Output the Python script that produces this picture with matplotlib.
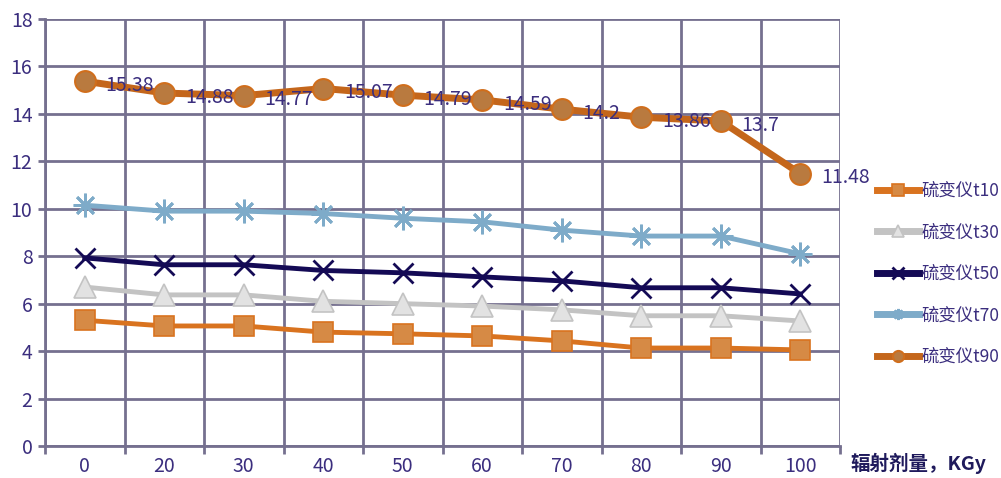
import matplotlib.pyplot as plt
from matplotlib.lines import Line2D
from matplotlib.ticker import FixedLocator

plt.rcParams['font.family'] = ['Noto Sans CJK SC', 'DejaVu Sans']

doses = ['0', '20', '30', '40', '50', '60', '70', '80', '90', '100']
t10 = [5.3, 5.06, 5.06, 4.8, 4.73, 4.64, 4.43, 4.13, 4.13, 4.05]
t30 = [6.7, 6.37, 6.37, 6.1, 6.0, 5.9, 5.74, 5.49, 5.49, 5.27]
t50 = [7.93, 7.64, 7.64, 7.4, 7.3, 7.13, 6.96, 6.67, 6.67, 6.41]
t70 = [10.15, 9.9, 9.9, 9.8, 9.6, 9.45, 9.1, 8.85, 8.85, 8.1]
t90 = [15.38, 14.88, 14.77, 15.07, 14.79, 14.59, 14.2, 13.86, 13.7, 11.48]
names = ['硫变仪t10', '硫变仪t30', '硫变仪t50', '硫变仪t70', '硫变仪t90']

text_color = '#3b2e7e'
grid_color = '#75708f'

fig = plt.figure(figsize=(10.01, 4.78), dpi=100)
ax = fig.add_axes([45 / 1001, 1 - 446 / 478, 795 / 1001, 427 / 478])

x = list(range(len(doses)))
styles = [
    dict(color='#d9731f', lw=3.5, marker='s', ms=14, mfc='#d68a45', mec='#d9731f', mew=1.2),
    dict(color='#c3c3c3', lw=3.5, marker='^', ms=16, mfc='#e2e2e2', mec='#c3c3c3', mew=1.2),
    dict(color='#140a55', lw=3.5, marker='x', ms=15, mec='#140a55', mew=2),
    dict(color='#7eabc9', lw=3.5, marker=(8, 2, 0), ms=17, mec='#7eabc9', mew=2),
    dict(color='#c4661b', lw=5, marker='o', ms=15, mfc='#b97a3f', mec='#d06e1c', mew=1.5),
]
series = [t10, t30, t50, t70, t90]
for ys, st in zip(series, styles):
    ax.plot(x, ys, zorder=3, clip_on=False, **st)

# value labels on the t90 curve
for xi, v in zip(x, t90):
    ax.annotate(f'{v:g}', (xi, v), xytext=(15, -3), textcoords='offset points',
                ha='left', va='center', fontsize=14, color=text_color, zorder=4)

ax.set_xlim(-0.5, 9.5)
ax.set_ylim(0, 18)
ax.set_yticks(range(0, 19, 2))
ax.set_xticks(x)
ax.set_xticklabels(doses)
ax.xaxis.set_minor_locator(FixedLocator([i - 0.5 for i in range(11)]))
ax.tick_params(axis='x', which='major', length=0, pad=7, labelsize=14, labelcolor=text_color)
ax.tick_params(axis='x', which='minor', length=6, width=2, color=grid_color)
ax.tick_params(axis='y', length=5, width=2, color=grid_color, labelsize=14,
               labelcolor=text_color, pad=4)

ax.grid(True, which='minor', axis='x', color=grid_color, lw=2)
ax.grid(True, which='major', axis='y', color=grid_color, lw=2)
for side in ['top', 'right']:
    ax.spines[side].set_visible(False)
for side in ['left', 'bottom']:
    ax.spines[side].set_color(grid_color)
    ax.spines[side].set_linewidth(2)
ax.set_axisbelow(True)

handles = []
for st in styles:
    h = dict(st)
    h['ms'] = 8
    h['lw'] = 5
    handles.append(Line2D([], [], **h))
fig.legend(handles, names, loc='upper left', bbox_to_anchor=(870 / 1001, 1 - 175 / 478),
           frameon=False, fontsize=12.5, labelcolor=text_color, handlelength=2.4,
           handletextpad=0.15, labelspacing=1.35, borderaxespad=0)

fig.text(850 / 1001, 1 - 463 / 478, '辐射剂量，KGy', fontsize=14, fontweight='bold',
         color='#1f1a5c', va='center', ha='left')

fig.savefig('out.png', dpi=100)
